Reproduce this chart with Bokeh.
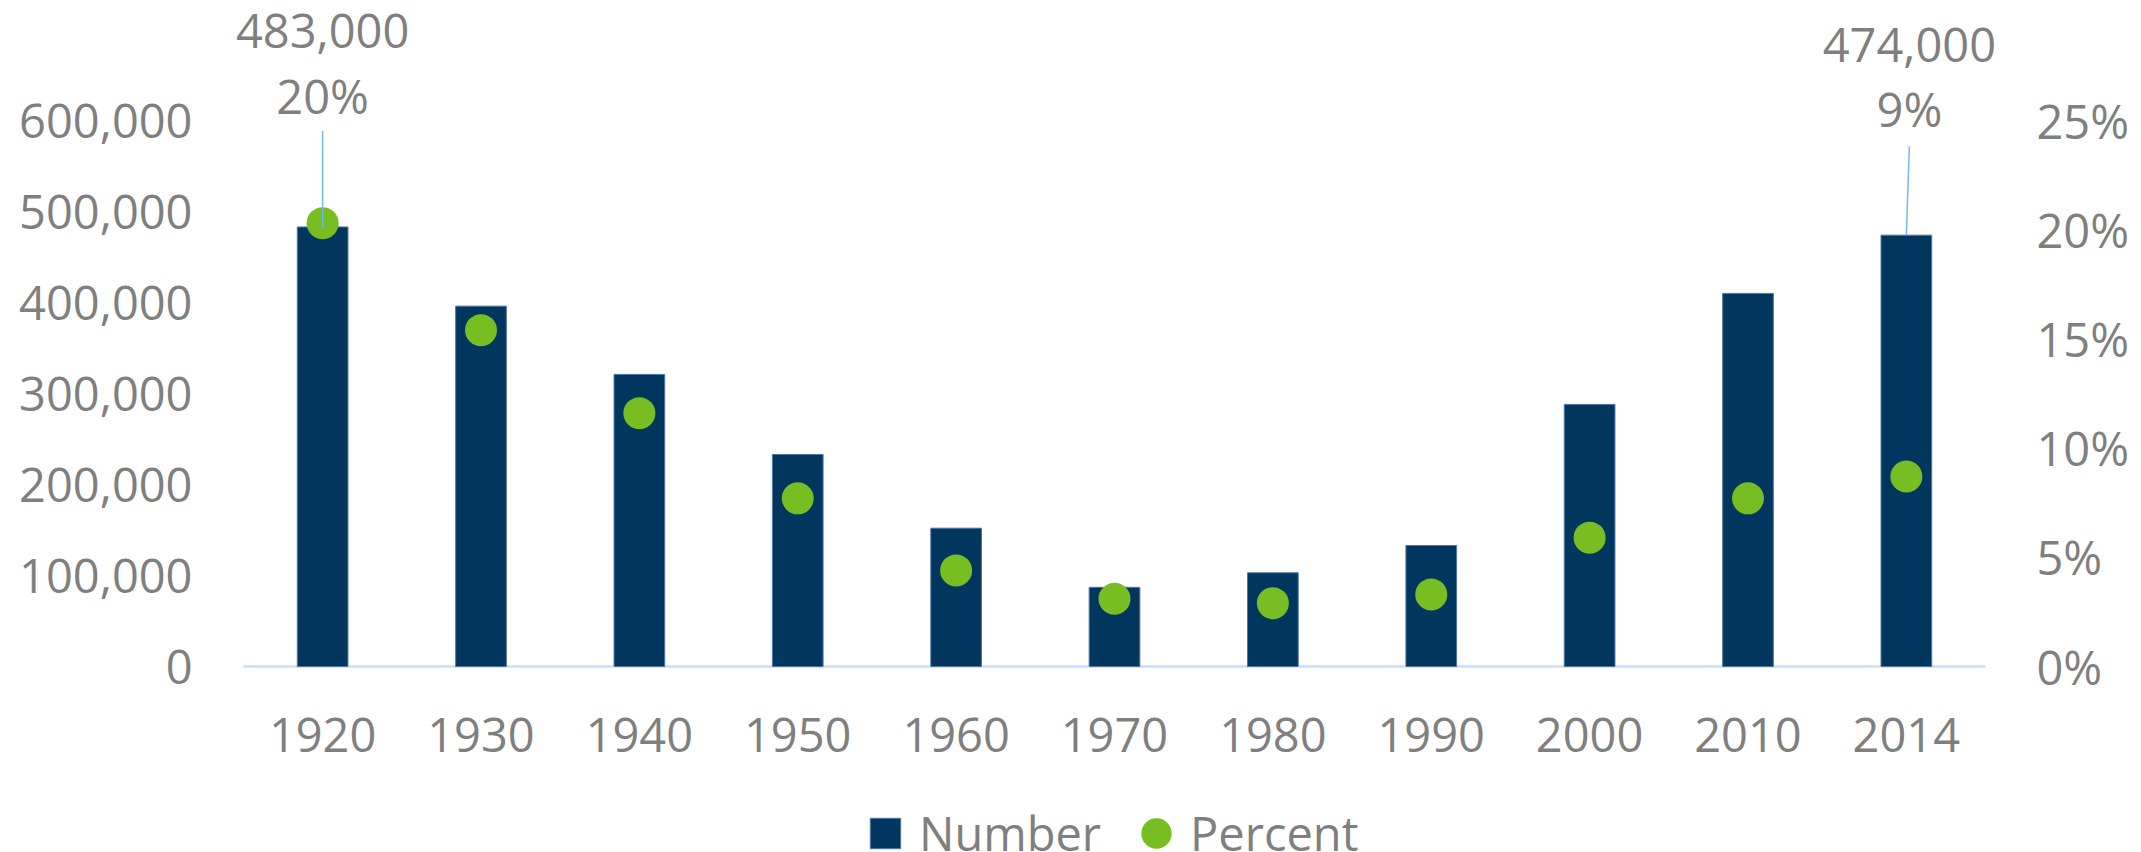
import math
from bokeh.plotting import figure
from bokeh.layouts import column
from bokeh.models import (Range1d, LinearAxis, FixedTicker, Legend, LegendItem,
                          ColumnDataSource, NumeralTickFormatter, PrintfTickFormatter, FactorRange)
from bokeh.transform import dodge
from bokeh.core.properties import value
from bokeh.embed import file_html
from bokeh.resources import INLINE

# ---- data ----
years = ["1920", "1930", "1940", "1950", "1960", "1970", "1980", "1990", "2000", "2010", "2014"]
number = [483000, 396000, 321000, 233000, 152000, 87000, 103000, 133000, 288000, 410000, 474000]
percent = [20.3, 15.4, 11.6, 7.7, 4.4, 3.1, 2.9, 3.3, 5.9, 7.7, 8.7]
left_ticks = [0, 100000, 200000, 300000, 400000, 500000, 600000]
right_ticks = [0, 5, 10, 15, 20, 25]
labelled = ["1920", "2014"]

FONT = "Open Sans"
GRAY = "#7F7F7F"
NAVY = "#01375F"
GREEN = "#78BD21"
FS = "47px"

# layout (pixels)
W = 2141
H_MAIN, H_LEG = 800, 52
FRAME_H = 669
ZERO_PX = 666          # pixel row of the zero line from the top of the frame
SCALE_PX = 546         # pixels for 600,000 / 25%
yend = 600000 * ZERO_PX / SCALE_PX
ystart = -600000 * (FRAME_H - ZERO_PX) / SCALE_PX
pend = 25 * ZERO_PX / SCALE_PX
pstart = -25 * (FRAME_H - ZERO_PX) / SCALE_PX

p = figure(x_range=FactorRange(*years, range_padding=0.0229),
           y_range=Range1d(ystart, yend),
           width=W, height=H_MAIN,
           output_backend="svg", toolbar_location=None,
           min_border_left=223, min_border_right=136, min_border_top=0,
           min_border_bottom=H_MAIN - FRAME_H, y_axis_location=None)
p.extra_y_ranges = {"pct": Range1d(pstart, pend)}
p.outline_line_color = None
p.xgrid.visible = False
p.ygrid.visible = False
p.background_fill_color = "white"
p.border_fill_color = "white"

src = ColumnDataSource(dict(year=years, number=number, percent=percent))

# baseline spanning the categories
base = ColumnDataSource(dict(first=[years[0]], last=[years[-1]], zero=[0]))
p.segment(x0=dodge("first", -0.5, range=p.x_range), y0="zero",
          x1=dodge("last", 0.5, range=p.x_range), y1="zero", source=base,
          line_color="#C3E0F8", line_width=2.5)

bar_style = dict(fill_color=NAVY, line_color="#4E76A0", line_width=1)
dot_style = dict(width=32, height=32, width_units="screen", height_units="screen",
                 fill_color=GREEN, line_color=None)

p.vbar(x="year", top="number", width=0.32, source=src, **bar_style)
p.ellipse(x="year", y="percent", y_range_name="pct", source=src, **dot_style)

# leader lines + callouts
idx = [years.index(y) for y in labelled]
lx = [years[i] for i in idx]
ly = [number[i] for i in idx]
p.ray(x=lx[:1], y=ly[:1], length=96, angle=math.pi / 2, length_units="screen",
      line_color="#72B9F2", line_width=1.5)
p.ray(x=lx[1:], y=ly[1:], length=89, angle=math.atan2(89, 3), length_units="screen",
      line_color="#72B9F2", line_width=1.5)
num_txt = [f"{number[i]:,}" for i in idx]
pct_txt = [f"{round(percent[i])}%" for i in idx]
p.text(x=lx, y=ly, text=num_txt, x_offset=[0, 3], y_offset=[-196, -190],
       text_align="center", text_baseline="alphabetic", text_font=value(FONT),
       text_font_size=FS, text_color=GRAY)
p.text(x=lx, y=ly, text=pct_txt, x_offset=[0, 3], y_offset=[-131, -126],
       text_align="center", text_baseline="alphabetic", text_font=value(FONT),
       text_font_size=FS, text_color=GRAY)

# axes
def style(ax):
    ax.major_tick_out = 0
    ax.major_tick_in = 0
    ax.minor_tick_out = 0
    ax.minor_tick_in = 0
    ax.major_label_text_font = FONT
    ax.major_label_text_font_size = FS
    ax.major_label_text_color = GRAY

la = LinearAxis(ticker=FixedTicker(ticks=left_ticks), formatter=NumeralTickFormatter(format="0,0"))
style(la)
la.axis_line_color = None
la.major_label_standoff = 31
p.add_layout(la, "left")

ra = LinearAxis(y_range_name="pct", ticker=FixedTicker(ticks=right_ticks),
                formatter=PrintfTickFormatter(format="%d%%"))
style(ra)
ra.axis_line_color = None
ra.major_label_standoff = 31
p.add_layout(ra, "right")

xa = p.xaxis[0]
style(xa)
xa.axis_line_color = None
xa.major_label_standoff = 48

# ---- legend strip (same series; bars hidden, dots fall outside its range) ----
lf = figure(x_range=FactorRange(*years), y_range=Range1d(-2, -1),
            width=W, height=H_LEG, output_backend="svg", toolbar_location=None,
            min_border_left=0, min_border_right=0, min_border_top=0, min_border_bottom=0,
            x_axis_location=None, y_axis_location=None)
lf.outline_line_color = None
lf.xgrid.visible = False
lf.ygrid.visible = False
lbars = lf.vbar(x="year", top="number", width=0.32, source=src, **bar_style)
lbars.visible = False
ldots = lf.ellipse(x="year", y="percent", source=src, **dot_style)

legend = Legend(items=[LegendItem(label="Number", renderers=[lbars]),
                       LegendItem(label="Percent", renderers=[ldots])],
                orientation="horizontal", location=(643, -13),
                label_text_font=FONT, label_text_font_size=FS, label_text_color=GRAY,
                glyph_width=38, glyph_height=38, label_standoff=15, spacing=36,
                border_line_color=None, background_fill_alpha=0, padding=0, margin=0,
                inactive_fill_alpha=0)
lf.add_layout(legend, "center")

open("out.html", "w").write(file_html(column(p, lf, spacing=0), INLINE))
